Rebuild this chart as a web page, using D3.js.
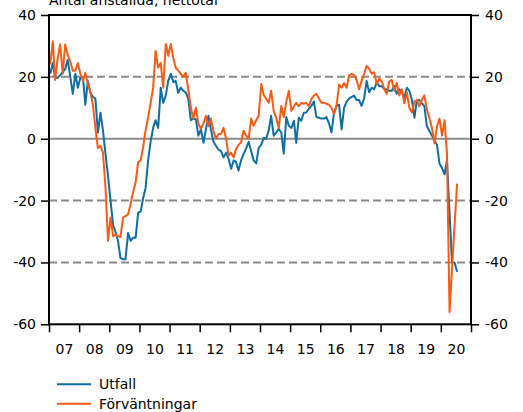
<!DOCTYPE html>
<html>
<head>
<meta charset="utf-8">
<script src="https://cdn.jsdelivr.net/npm/d3@7"></script>
<style>
  html, body { margin: 0; padding: 0; background: #fff; }
  svg { display: block; }
  text { font-family: "DejaVu Sans", Verdana, sans-serif; font-size: 14px; fill: #000; }
</style>
</head>
<body>
<svg id="chart" width="523" height="412"></svg>
<script>
// ---- data (monthly, Jan 2007 – Jul 2020) ----
const startYear = 2007;
const startMonth = 0;
const utfall = [
  21, 24.5, 19.7, 19.7, 20.5, 21.5, 22.5, 25.5, 20, 14.5, 21, 16.5,
  19.7, 20, 11, 18.7, 15, 13.5, 13, 2, 8.4, 2.6, -5, -12,
  -20, -28, -30, -33, -38.5, -39, -39, -30.5, -33, -32, -32, -24,
  -23.5, -19, -16, -7, -1, 3.5, 6, 3.5, 16.5, 11.6, 14, 18.7,
  21, 18.3, 18.7, 14.8, 16.5, 15.5, 15, 13, 6, 6.5, 6.3, 1,
  3, -1.3, 3, 7.4, 3, -1, -2.3, -3.5, -4, -6, -4.5, -6.5,
  -9.7, -7, -7.5, -10.3, -7, -5, -3.2, -1, -4, -7, -8, -3,
  -1.9, 0.3, 0, 2.6, 7.4, 1, 2, 3.2, 2, -4.8, 7, 4.2,
  3.5, 5.8, -1.3, 6.8, 5.8, 8.4, 8.5, 9.7, 10.6, 12, 7, 6.8,
  6.5, 6.5, 7, 5, 2, 8.4, 10.6, 11, 3, 10, 12, 13,
  13.5, 13.9, 12.5, 12.5, 10.6, 13, 18.7, 15, 16.5, 16, 18.2, 17,
  17, 16, 16, 15.5, 15.5, 17, 14.5, 16, 15, 13.3, 16.5, 15.5,
  12.5, 6.8, 12.3, 12.5, 11.5, 10.5, 4, 2.5, 1, -0.5, -2, -8,
  -9.5, -11.5, -7, -24, -40, -40, -43
];
const forvantningar = [
  24, 31.5, 19, 26, 30.5, 21, 30.5, 27, 25, 22, 22, 24.5,
  21, 18.7, 21.3, 17.7, 15, 11, 3.5, -3, -2.3, -4.5, -16, -33,
  -25.5, -31.5, -31, -31.5, -31.8, -25.5, -25, -24.5, -21, -17.3, -14, -7.6,
  -7, -2.5, 2.6, 6.8, 11.6, 16.5, 28.4, 23, 24.5, 16.5, 30.6, 26.8,
  30.6, 26, 23, 22, 21, 20, 21.3, 16, 10, 6.5, 10, 4.8,
  3.2, 5, 7.4, 4, 6.5, 2.6, 0, 1.5, 1.5, 3.5, 0, -5.5,
  -4.5, -6, -3.3, -2, -1.2, 2.6, 1, 0, 6.5, 4.2, 6, 7.4,
  17.7, 14, 13, 11.6, 15.5, 9, 6.8, 3.5, 10.6, 7, 12, 15.5,
  9, 10.5, 11.6, 10.5, 11.6, 11.3, 11.6, 10.5, 12.9, 13.9, 14.5, 13,
  11.6, 11.6, 11.3, 11, 10, 8, 10.5, 17.5, 16.5, 18, 16.5, 20.5,
  21, 20.5, 19, 16, 18.7, 21, 23.5, 22.6, 21, 21.5, 17.7, 19.4,
  18.5, 16, 14.5, 18.5, 19, 15.5, 18, 14, 16, 11.5, 15, 10,
  8.5, 12, 12.5, 10.5, 12.5, 14, 9.5, 6.6, 3.5, -1.5, 4, 6.5,
  1, 6, -5, -56, -42, -28, -14.5
];
const seriesNames = ["Utfall", "Förväntningar"];
const seriesColors = ["#0e6ea5", "#fa5a14"];
const yTicks = [-60, -40, -20, 0, 20, 40];
const dashedLevels = [20, -20, -40];
const xTickYears = d3.range(2007, 2022);
const xLabelYears = d3.range(2007, 2021);
const title = "Antal anställda, nettotal";

// ---- layout ----
const L = 49, R = 471, T = 15, B = 324.3;
const svg = d3.select("#chart");

const x = d3.scaleTime()
  .domain([new Date(2007, 0, 1), new Date(2021, 0, 1)])
  .range([L, R]);
const y = d3.scaleLinear().domain([-60, 40]).range([B, T]);

const dateOf = i => new Date(startYear, startMonth + i, 16);

// grid
svg.append("g").selectAll("line").data(dashedLevels).join("line")
  .attr("x1", L).attr("x2", R)
  .attr("y1", d => y(d)).attr("y2", d => y(d))
  .attr("stroke", "#8a8a8a").attr("stroke-width", 2)
  .attr("stroke-dasharray", "8,4");
svg.append("line")
  .attr("x1", L).attr("x2", R).attr("y1", y(0)).attr("y2", y(0))
  .attr("stroke", "#8a8a8a").attr("stroke-width", 2);

// lines
const line = d3.line().x((d, i) => x(dateOf(i))).y(d => y(d));
[utfall, forvantningar].forEach((s, k) => {
  svg.append("path").datum(s)
    .attr("fill", "none")
    .attr("stroke", seriesColors[k])
    .attr("stroke-width", 2)
    .attr("stroke-linejoin", "round")
    .attr("d", line);
});

// frame
svg.append("rect").attr("x", L).attr("y", T)
  .attr("width", R - L).attr("height", B - T)
  .attr("fill", "none").attr("stroke", "#000").attr("stroke-width", 2);

// axes
const yl = svg.append("g").attr("transform", `translate(${L},0)`)
  .call(d3.axisLeft(y).tickValues(yTicks).tickSize(8).tickPadding(5).tickFormat(d3.format("d")));
const yr = svg.append("g").attr("transform", `translate(${R},0)`)
  .call(d3.axisRight(y).tickValues(yTicks).tickSize(8).tickPadding(6).tickFormat(d3.format("d")));
const xb = svg.append("g").attr("transform", `translate(0,${B})`)
  .call(d3.axisBottom(x).tickValues(xTickYears.map(yy => new Date(yy, 0, 1))).tickSize(8).tickFormat(""));
const xl = svg.append("g").attr("transform", `translate(0,${B})`)
  .call(d3.axisBottom(x).tickValues(xLabelYears.map(yy => new Date(yy, 6, 2))).tickSize(0).tickPadding(20)
    .tickFormat(d3.timeFormat("%y")));
[yl, yr, xb, xl].forEach(g => {
  g.select(".domain").remove();
  g.selectAll("line").attr("stroke", "#000").attr("stroke-width", 1.5);
  g.selectAll("text").attr("font-family", "DejaVu Sans, Verdana, sans-serif").attr("font-size", 14).attr("fill", "#000");
});
yl.selectAll("text").text(d => d3.format("d")(d).replace("−", "-"));
yr.selectAll("text").text(d => d3.format("d")(d).replace("−", "-"));

// title
svg.append("text").attr("x", L).attr("y", 4.5).text(title);

// legend
const lg = svg.append("g");
seriesNames.forEach((n, k) => {
  const yy = 384.3 + k * 19.5;
  lg.append("line").attr("x1", 57).attr("x2", 91).attr("y1", yy).attr("y2", yy)
    .attr("stroke", seriesColors[k]).attr("stroke-width", 2);
  lg.append("text").attr("x", 99).attr("y", yy + 5).text(n);
});
</script>
</body>
</html>
